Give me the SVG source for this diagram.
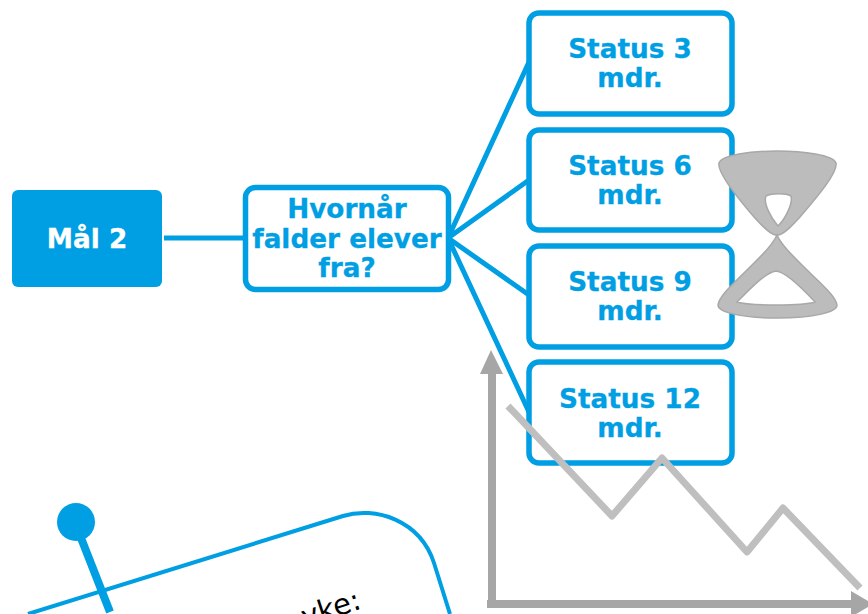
<svg xmlns="http://www.w3.org/2000/svg" width="868" height="614" viewBox="0 0 868 614">
<style>
.box{fill:#fff;stroke:#009fe3;stroke-width:5.500}
.t{font-family:"DejaVu Sans",Verdana,sans-serif;font-weight:700;font-size:26.300px;fill:#009fe3;text-anchor:middle;stroke:#009fe3;stroke-width:.3}
.c{stroke:#009fe3;stroke-width:5;fill:none}
</style>
<rect width="868" height="614" fill="#fff"/>
<g id="connectors">
<path class="c" d="M164 238H246M448 238L529 62M448 238L529 180M448 238L529 295M448 238L529 412"/>
</g>
<g id="mal2"><rect x="12" y="190" width="150" height="97" rx="6" fill="#009fe3"/><text x="87" y="248" class="t" style="fill:#fff;stroke:#fff">Mål 2</text></g>
<g id="hvornaar"><rect class="box" x="245.500" y="187.500" width="203" height="102" rx="10"/><text class="t" x="347" y="218">Hvornår</text><text class="t" x="347" y="248">falder elever</text><text class="t" x="347" y="277">fra?</text></g>
<g id="status3"><rect class="box" x="529" y="13" width="203" height="101" rx="10"/><text class="t" x="630" y="58">Status 3</text><text class="t" x="630" y="87">mdr.</text></g>
<g id="status6"><rect class="box" x="529" y="130" width="203" height="100" rx="10"/><text class="t" x="630" y="175">Status 6</text><text class="t" x="630" y="204">mdr.</text></g>
<g id="status9"><rect class="box" x="529" y="246" width="203" height="101" rx="10"/><text class="t" x="630" y="291">Status 9</text><text class="t" x="630" y="320">mdr.</text></g>
<g id="status12"><rect class="box" x="529" y="362" width="203" height="101" rx="10"/><text class="t" x="630" y="408">Status 12</text><text class="t" x="630" y="437">mdr.</text></g>
<g id="hourglass"><path fill="#bcbcbc" stroke="#a8a8a8" stroke-width="1.500" fill-rule="evenodd" d="M777 151C750 151 722 155 719 163C717 172 735 195 754 217C764 228 772 236 777 235C782 236 790 228 800 217C819 195 838 172 836 163C833 155 804 151 777 151ZM766 196C772 193 786 193 791 196C793 203 786 218 778 226C771 218 763 203 766 196ZM777 235C772 246 760 257 748 269C735 282 719 296 718 305C718 312 740 318 777 318C815 318 837 312 837 305C836 296 819 282 806 269C794 257 782 246 777 235ZM776 271C786 272 803 289 815 302C803 306 750 306 737 302C750 289 766 272 776 271Z"/></g>
<g id="chart"><path d="M492 604V370" stroke="#a6a6a6" stroke-width="8" fill="none"/><path d="M487 604H852" stroke="#a6a6a6" stroke-width="8" fill="none"/><path d="M480 374L491 350L503 374Z" fill="#a6a6a6"/><path d="M851 591L873 604L851 617Z" fill="#a6a6a6"/><path d="M508 406L612 516L662 458L747 552L783 508L860 588" fill="none" stroke="#bfbfbf" stroke-width="7" stroke-linejoin="round"/></g>
<g id="note"><path d="M28 614L343 516C375 506 420 520 434 563L450 614" fill="none" stroke="#009fe3" stroke-width="4"/><circle cx="76" cy="522" r="19" fill="#009fe3"/><path d="M81 538L110 612" stroke="#009fe3" stroke-width="8" fill="none"/><text x="305" y="627" transform="rotate(-18 305 627)" font-family="'DejaVu Sans',Verdana,sans-serif" font-size="29" fill="#000">yke:</text></g>
</svg>
